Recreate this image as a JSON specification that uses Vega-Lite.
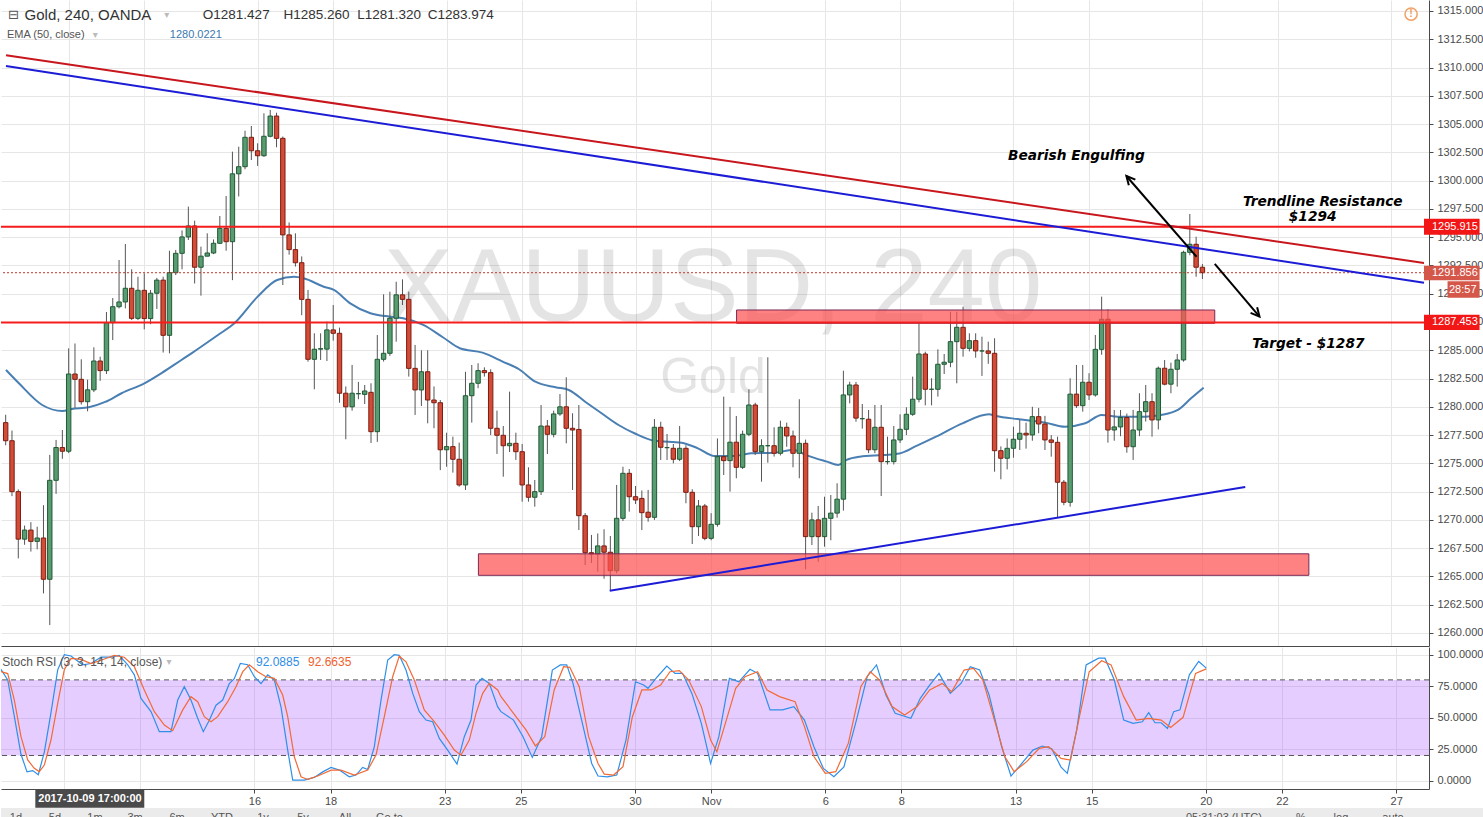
{
  "$schema": "https://vega.github.io/schema/vega-lite/v6.json",
  "background": "#ffffff",
  "padding": 0,
  "bounds": "flush",
  "spacing": 1,
  "config": {
    "view": {"stroke": null},
    "axis": {"labelFont": "Liberation Sans", "labelFontSize": 11, "labelColor": "#4a4a4a", "tickColor": "#4a4a4a", "domainColor": "#4a4a4a", "gridColor": "#e6e6e6", "tickSize": 4, "labelOverlap": false, "labelFlush": false},
    "text": {"font": "Liberation Sans"}
  },
  "datasets": {
    "candles": [
      {"n":0,"o":1278.6,"h":1279.3,"l":1276.6,"c":1277.0},
      {"n":1,"o":1277.0,"h":1277.9,"l":1272.1,"c":1272.5},
      {"n":2,"o":1272.5,"h":1272.7,"l":1266.6,"c":1268.3},
      {"n":3,"o":1268.3,"h":1269.5,"l":1267.8,"c":1269.1},
      {"n":4,"o":1269.1,"h":1269.8,"l":1267.2,"c":1268.1},
      {"n":5,"o":1268.1,"h":1269.4,"l":1267.4,"c":1268.4},
      {"n":6,"o":1268.4,"h":1271.3,"l":1263.5,"c":1264.75},
      {"n":7,"o":1264.75,"h":1275.75,"l":1260.7,"c":1273.5},
      {"n":8,"o":1273.5,"h":1277.07,"l":1272.3,"c":1276.4},
      {"n":9,"o":1276.4,"h":1277.95,"l":1275.4,"c":1276.07},
      {"n":10,"o":1276.07,"h":1285.17,"l":1275.9,"c":1282.9},
      {"n":11,"o":1282.9,"h":1285.6,"l":1279.9,"c":1282.43},
      {"n":12,"o":1282.43,"h":1284.2,"l":1280.2,"c":1280.45},
      {"n":13,"o":1280.45,"h":1282.4,"l":1279.6,"c":1281.5},
      {"n":14,"o":1281.5,"h":1285.26,"l":1281.3,"c":1284.05},
      {"n":15,"o":1284.05,"h":1284.43,"l":1282.3,"c":1283.2},
      {"n":16,"o":1283.2,"h":1288.38,"l":1282.9,"c":1287.44},
      {"n":17,"o":1287.44,"h":1289.62,"l":1285.9,"c":1288.85},
      {"n":18,"o":1288.85,"h":1292.98,"l":1288.7,"c":1289.27},
      {"n":19,"o":1289.27,"h":1294.4,"l":1288.7,"c":1290.48},
      {"n":20,"o":1290.48,"h":1292.16,"l":1287.67,"c":1287.82},
      {"n":21,"o":1287.82,"h":1291.5,"l":1287.67,"c":1290.3},
      {"n":22,"o":1290.3,"h":1291.8,"l":1286.85,"c":1287.8},
      {"n":23,"o":1287.8,"h":1290.33,"l":1287.3,"c":1290.04},
      {"n":24,"o":1290.04,"h":1291.4,"l":1288.65,"c":1291.2},
      {"n":25,"o":1291.2,"h":1291.5,"l":1284.8,"c":1286.32},
      {"n":26,"o":1286.32,"h":1293.8,"l":1284.73,"c":1291.86},
      {"n":27,"o":1291.86,"h":1293.87,"l":1291.65,"c":1293.57},
      {"n":28,"o":1293.57,"h":1295.6,"l":1292.16,"c":1295.02},
      {"n":29,"o":1295.02,"h":1297.7,"l":1294.75,"c":1295.99},
      {"n":30,"o":1295.99,"h":1296.46,"l":1290.9,"c":1292.34},
      {"n":31,"o":1292.34,"h":1294.16,"l":1289.83,"c":1293.32},
      {"n":32,"o":1293.32,"h":1295.34,"l":1293.3,"c":1293.6},
      {"n":33,"o":1293.6,"h":1294.8,"l":1293.5,"c":1294.46},
      {"n":34,"o":1294.46,"h":1296.87,"l":1294.4,"c":1295.78},
      {"n":35,"o":1295.78,"h":1298.64,"l":1293.8,"c":1294.6},
      {"n":36,"o":1294.6,"h":1302.56,"l":1291.2,"c":1300.6},
      {"n":37,"o":1300.6,"h":1303.0,"l":1298.6,"c":1301.23},
      {"n":38,"o":1301.23,"h":1304.41,"l":1301.0,"c":1303.83},
      {"n":39,"o":1303.83,"h":1304.83,"l":1301.82,"c":1302.64},
      {"n":40,"o":1302.64,"h":1303.3,"l":1301.3,"c":1302.2},
      {"n":41,"o":1302.2,"h":1305.95,"l":1302.1,"c":1303.92},
      {"n":42,"o":1303.92,"h":1306.25,"l":1303.83,"c":1305.71},
      {"n":43,"o":1305.71,"h":1306.0,"l":1302.95,"c":1303.74},
      {"n":44,"o":1303.74,"h":1303.9,"l":1290.77,"c":1295.2},
      {"n":45,"o":1295.2,"h":1296.3,"l":1293.45,"c":1293.9},
      {"n":46,"o":1293.9,"h":1295.34,"l":1292.4,"c":1292.74},
      {"n":47,"o":1292.74,"h":1293.3,"l":1288.1,"c":1289.5},
      {"n":48,"o":1289.5,"h":1290.33,"l":1283.99,"c":1284.2},
      {"n":49,"o":1284.2,"h":1286.5,"l":1281.55,"c":1285.09},
      {"n":50,"o":1285.1,"h":1286.5,"l":1284.14,"c":1285.14},
      {"n":51,"o":1285.1,"h":1287.53,"l":1284.05,"c":1286.8},
      {"n":52,"o":1286.8,"h":1289.0,"l":1285.85,"c":1286.5},
      {"n":53,"o":1286.5,"h":1287.0,"l":1280.36,"c":1281.2},
      {"n":54,"o":1281.2,"h":1281.8,"l":1277.13,"c":1280.0},
      {"n":55,"o":1280.0,"h":1283.7,"l":1279.66,"c":1281.2},
      {"n":56,"o":1281.16,"h":1282.2,"l":1280.67,"c":1281.16},
      {"n":57,"o":1281.1,"h":1281.93,"l":1280.25,"c":1281.4},
      {"n":58,"o":1281.28,"h":1282.08,"l":1276.8,"c":1277.8},
      {"n":59,"o":1277.8,"h":1286.35,"l":1276.9,"c":1284.2},
      {"n":60,"o":1284.2,"h":1289.95,"l":1284.0,"c":1284.73},
      {"n":61,"o":1284.73,"h":1290.18,"l":1284.5,"c":1287.83},
      {"n":62,"o":1287.83,"h":1291.06,"l":1285.76,"c":1289.9},
      {"n":63,"o":1289.9,"h":1291.27,"l":1289.0,"c":1289.5},
      {"n":64,"o":1289.5,"h":1290.18,"l":1282.67,"c":1283.4},
      {"n":65,"o":1283.4,"h":1285.47,"l":1279.28,"c":1281.49},
      {"n":66,"o":1281.49,"h":1285.0,"l":1280.07,"c":1283.1},
      {"n":67,"o":1283.1,"h":1285.0,"l":1278.54,"c":1280.6},
      {"n":68,"o":1280.6,"h":1281.8,"l":1278.1,"c":1280.36},
      {"n":69,"o":1280.36,"h":1280.6,"l":1274.4,"c":1276.2},
      {"n":70,"o":1276.2,"h":1277.71,"l":1274.7,"c":1276.48},
      {"n":71,"o":1276.48,"h":1277.36,"l":1274.18,"c":1275.36},
      {"n":72,"o":1275.36,"h":1276.83,"l":1272.94,"c":1273.09},
      {"n":73,"o":1273.09,"h":1283.1,"l":1272.65,"c":1280.98},
      {"n":74,"o":1280.98,"h":1283.7,"l":1278.6,"c":1282.08},
      {"n":75,"o":1282.08,"h":1283.85,"l":1281.64,"c":1283.2},
      {"n":76,"o":1283.2,"h":1283.49,"l":1282.67,"c":1283.02},
      {"n":77,"o":1283.02,"h":1283.32,"l":1277.5,"c":1278.1},
      {"n":78,"o":1278.1,"h":1279.66,"l":1275.83,"c":1277.48},
      {"n":79,"o":1277.48,"h":1278.3,"l":1273.82,"c":1276.56},
      {"n":80,"o":1276.56,"h":1281.34,"l":1276.0,"c":1276.77},
      {"n":81,"o":1276.77,"h":1277.71,"l":1275.3,"c":1276.03},
      {"n":82,"o":1276.03,"h":1276.71,"l":1271.61,"c":1273.09},
      {"n":83,"o":1273.09,"h":1274.65,"l":1271.61,"c":1272.0},
      {"n":84,"o":1272.0,"h":1273.53,"l":1271.17,"c":1272.5},
      {"n":85,"o":1272.5,"h":1280.16,"l":1272.2,"c":1278.3},
      {"n":86,"o":1278.3,"h":1278.84,"l":1275.83,"c":1277.57},
      {"n":87,"o":1277.57,"h":1279.66,"l":1277.3,"c":1279.37},
      {"n":88,"o":1279.37,"h":1281.13,"l":1279.2,"c":1280.0},
      {"n":89,"o":1280.0,"h":1282.61,"l":1276.77,"c":1278.1},
      {"n":90,"o":1278.1,"h":1279.43,"l":1272.65,"c":1277.95},
      {"n":91,"o":1278.0,"h":1280.16,"l":1269.1,"c":1270.37},
      {"n":92,"o":1270.37,"h":1270.6,"l":1266.01,"c":1267.1},
      {"n":93,"o":1267.1,"h":1268.67,"l":1266.2,"c":1266.98},
      {"n":94,"o":1266.98,"h":1268.8,"l":1265.42,"c":1267.7},
      {"n":95,"o":1267.7,"h":1269.17,"l":1264.8,"c":1267.14},
      {"n":96,"o":1267.14,"h":1268.58,"l":1263.74,"c":1265.51},
      {"n":97,"o":1265.51,"h":1273.09,"l":1265.28,"c":1270.14},
      {"n":98,"o":1270.14,"h":1274.7,"l":1269.9,"c":1274.12},
      {"n":99,"o":1274.12,"h":1274.5,"l":1270.73,"c":1272.05},
      {"n":100,"o":1272.05,"h":1273.0,"l":1271.4,"c":1271.76},
      {"n":101,"o":1271.9,"h":1272.6,"l":1269.1,"c":1270.64},
      {"n":102,"o":1270.68,"h":1272.65,"l":1269.84,"c":1270.23},
      {"n":103,"o":1270.23,"h":1278.92,"l":1270.0,"c":1278.19},
      {"n":104,"o":1278.19,"h":1278.68,"l":1275.3,"c":1276.42},
      {"n":105,"o":1276.39,"h":1277.6,"l":1275.3,"c":1276.39},
      {"n":106,"o":1276.33,"h":1276.71,"l":1275.0,"c":1275.36},
      {"n":107,"o":1275.36,"h":1278.3,"l":1275.2,"c":1276.33},
      {"n":108,"o":1276.33,"h":1276.6,"l":1271.47,"c":1272.44},
      {"n":109,"o":1272.44,"h":1272.71,"l":1267.87,"c":1269.4},
      {"n":110,"o":1269.4,"h":1271.76,"l":1268.58,"c":1271.23},
      {"n":111,"o":1271.23,"h":1271.41,"l":1268.2,"c":1268.37},
      {"n":112,"o":1268.37,"h":1270.6,"l":1268.2,"c":1269.61},
      {"n":113,"o":1269.61,"h":1277.2,"l":1269.4,"c":1275.59},
      {"n":114,"o":1275.59,"h":1280.9,"l":1273.97,"c":1275.24},
      {"n":115,"o":1275.24,"h":1280.0,"l":1272.5,"c":1276.87},
      {"n":116,"o":1276.87,"h":1279.19,"l":1273.68,"c":1274.65},
      {"n":117,"o":1274.65,"h":1277.9,"l":1274.5,"c":1277.57},
      {"n":118,"o":1277.57,"h":1281.55,"l":1277.4,"c":1280.16},
      {"n":119,"o":1280.16,"h":1280.36,"l":1275.74,"c":1276.03},
      {"n":120,"o":1276.03,"h":1277.13,"l":1273.38,"c":1276.56},
      {"n":121,"o":1276.56,"h":1284.38,"l":1275.06,"c":1276.56},
      {"n":122,"o":1276.56,"h":1278.19,"l":1275.6,"c":1275.89},
      {"n":123,"o":1275.89,"h":1278.77,"l":1275.7,"c":1278.19},
      {"n":124,"o":1278.19,"h":1278.6,"l":1276.47,"c":1277.42},
      {"n":125,"o":1277.42,"h":1277.9,"l":1274.65,"c":1275.89},
      {"n":126,"o":1275.89,"h":1280.67,"l":1273.68,"c":1276.77},
      {"n":127,"o":1276.77,"h":1277.1,"l":1265.63,"c":1268.52},
      {"n":128,"o":1268.52,"h":1270.64,"l":1267.78,"c":1270.0},
      {"n":129,"o":1270.0,"h":1271.23,"l":1266.3,"c":1268.52},
      {"n":130,"o":1268.52,"h":1272.05,"l":1267.63,"c":1270.14},
      {"n":131,"o":1270.14,"h":1272.2,"l":1268.2,"c":1270.6},
      {"n":132,"o":1270.6,"h":1273.24,"l":1270.2,"c":1271.83},
      {"n":133,"o":1271.83,"h":1283.19,"l":1270.82,"c":1281.05},
      {"n":134,"o":1281.05,"h":1282.22,"l":1280.3,"c":1281.93},
      {"n":135,"o":1281.93,"h":1282.2,"l":1278.68,"c":1279.0},
      {"n":136,"o":1278.95,"h":1280.25,"l":1278.07,"c":1278.95},
      {"n":137,"o":1278.9,"h":1279.72,"l":1275.9,"c":1276.2},
      {"n":138,"o":1276.2,"h":1280.16,"l":1275.9,"c":1278.19},
      {"n":139,"o":1278.19,"h":1280.16,"l":1272.11,"c":1275.15},
      {"n":140,"o":1275.15,"h":1277.36,"l":1274.9,"c":1275.15},
      {"n":141,"o":1275.15,"h":1278.3,"l":1274.9,"c":1277.07},
      {"n":142,"o":1277.07,"h":1279.34,"l":1276.8,"c":1278.01},
      {"n":143,"o":1278.01,"h":1279.96,"l":1277.5,"c":1279.34},
      {"n":144,"o":1279.34,"h":1282.67,"l":1279.2,"c":1280.67},
      {"n":145,"o":1280.67,"h":1287.38,"l":1280.4,"c":1284.67},
      {"n":146,"o":1284.67,"h":1284.87,"l":1280.13,"c":1281.55},
      {"n":147,"o":1281.55,"h":1282.52,"l":1280.13,"c":1281.55},
      {"n":148,"o":1281.55,"h":1285.08,"l":1280.9,"c":1283.76},
      {"n":149,"o":1283.76,"h":1284.67,"l":1282.9,"c":1283.94},
      {"n":150,"o":1283.94,"h":1288.41,"l":1283.5,"c":1285.76},
      {"n":151,"o":1285.76,"h":1288.41,"l":1282.08,"c":1287.03},
      {"n":152,"o":1287.03,"h":1288.85,"l":1284.43,"c":1285.17},
      {"n":153,"o":1285.17,"h":1286.5,"l":1284.9,"c":1285.85},
      {"n":154,"o":1285.85,"h":1286.5,"l":1284.34,"c":1284.94},
      {"n":155,"o":1284.94,"h":1286.2,"l":1282.73,"c":1284.94},
      {"n":156,"o":1284.94,"h":1285.76,"l":1283.8,"c":1284.73},
      {"n":157,"o":1284.73,"h":1286.06,"l":1274.26,"c":1276.12},
      {"n":158,"o":1276.12,"h":1276.5,"l":1273.59,"c":1275.45},
      {"n":159,"o":1275.45,"h":1277.2,"l":1274.47,"c":1276.33},
      {"n":160,"o":1276.33,"h":1278.24,"l":1275.5,"c":1277.13},
      {"n":161,"o":1277.13,"h":1278.84,"l":1276.18,"c":1277.66},
      {"n":162,"o":1277.66,"h":1278.6,"l":1276.3,"c":1277.51},
      {"n":163,"o":1277.51,"h":1280.0,"l":1277.0,"c":1279.13},
      {"n":164,"o":1279.13,"h":1279.9,"l":1277.66,"c":1278.48},
      {"n":165,"o":1278.48,"h":1279.2,"l":1276.18,"c":1277.07},
      {"n":166,"o":1277.07,"h":1277.5,"l":1275.59,"c":1276.86},
      {"n":167,"o":1276.86,"h":1277.36,"l":1270.23,"c":1273.33},
      {"n":168,"o":1273.33,"h":1273.53,"l":1271.3,"c":1271.56},
      {"n":169,"o":1271.56,"h":1282.52,"l":1271.17,"c":1281.12},
      {"n":170,"o":1281.12,"h":1283.7,"l":1279.9,"c":1280.1},
      {"n":171,"o":1280.1,"h":1283.7,"l":1279.57,"c":1282.17},
      {"n":172,"o":1282.17,"h":1282.97,"l":1280.6,"c":1281.05},
      {"n":173,"o":1281.05,"h":1286.35,"l":1280.9,"c":1285.08},
      {"n":174,"o":1285.08,"h":1289.74,"l":1284.6,"c":1287.74},
      {"n":175,"o":1287.74,"h":1288.62,"l":1276.83,"c":1277.95},
      {"n":176,"o":1277.95,"h":1279.72,"l":1277.0,"c":1278.22},
      {"n":177,"o":1278.22,"h":1279.72,"l":1277.4,"c":1279.05},
      {"n":178,"o":1279.05,"h":1279.4,"l":1275.94,"c":1276.47},
      {"n":179,"o":1276.47,"h":1279.72,"l":1275.3,"c":1277.95},
      {"n":180,"o":1277.95,"h":1281.2,"l":1277.4,"c":1279.57},
      {"n":181,"o":1279.57,"h":1281.93,"l":1278.7,"c":1280.45},
      {"n":182,"o":1280.45,"h":1281.2,"l":1277.36,"c":1278.84},
      {"n":183,"o":1278.84,"h":1283.56,"l":1278.0,"c":1283.41},
      {"n":184,"o":1283.41,"h":1284.14,"l":1281.9,"c":1282.0},
      {"n":185,"o":1282.0,"h":1283.9,"l":1281.2,"c":1283.32},
      {"n":186,"o":1283.32,"h":1284.67,"l":1281.78,"c":1284.14},
      {"n":187,"o":1284.14,"h":1293.8,"l":1283.99,"c":1293.66},
      {"n":188,"o":1293.66,"h":1297.05,"l":1293.4,"c":1294.37},
      {"n":189,"o":1294.37,"h":1295.04,"l":1291.5,"c":1292.34},
      {"n":190,"o":1292.34,"h":1292.63,"l":1291.3,"c":1291.86}
    ],
    "ema": [
      {"n":0.05,"v":1283.26},{"n":2.1,"v":1282.08},{"n":5.8,"v":1280.16},{"n":9,"v":1279.63},{"n":10.5,"v":1279.8},{"n":13.2,"v":1279.96},{"n":15.8,"v":1280.43},{"n":18.4,"v":1281.2},{"n":22.1,"v":1282.1},{"n":24.8,"v":1283.0},{"n":27.9,"v":1284.14},{"n":29.5,"v":1284.73},{"n":33.7,"v":1286.35},{"n":36.3,"v":1287.38},{"n":40,"v":1289.74},{"n":43.1,"v":1291.21},{"n":45.8,"v":1291.5},{"n":47.3,"v":1291.36},{"n":50.5,"v":1290.62},{"n":52.1,"v":1290.33},{"n":54.7,"v":1289.15},{"n":57.9,"v":1288.27},{"n":61,"v":1287.97},{"n":63.1,"v":1287.83},{"n":66.3,"v":1287.24},{"n":69.4,"v":1286.15},{"n":72.1,"v":1285.18},{"n":75.7,"v":1284.79},{"n":78.9,"v":1284.0},{"n":81.5,"v":1283.32},{"n":84.1,"v":1282.22},{"n":87.3,"v":1281.73},{"n":89.4,"v":1281.49},{"n":92,"v":1280.45},{"n":94.6,"v":1279.43},{"n":97.3,"v":1278.39},{"n":99.9,"v":1277.64},{"n":103,"v":1277.0},{"n":107.3,"v":1276.83},{"n":109.9,"v":1276.33},{"n":112.5,"v":1275.65},{"n":115.7,"v":1275.65},{"n":118.3,"v":1275.89},{"n":121.9,"v":1275.94},{"n":125.1,"v":1276.18},{"n":127.2,"v":1275.71},{"n":130.4,"v":1275.15},{"n":132.2,"v":1274.86},{"n":133.5,"v":1275.3},{"n":135.6,"v":1275.59},{"n":139.3,"v":1275.74},{"n":141.9,"v":1275.87},{"n":144.6,"v":1276.54},{"n":147.7,"v":1277.36},{"n":151.9,"v":1278.54},{"n":156.1,"v":1279.34},{"n":157.2,"v":1279.19},{"n":160.9,"v":1278.9},{"n":165.1,"v":1278.6},{"n":168.2,"v":1278.24},{"n":171.4,"v":1278.54},{"n":174,"v":1279.28},{"n":176.6,"v":1279.13},{"n":180.8,"v":1279.13},{"n":183.4,"v":1279.28},{"n":186.1,"v":1279.72},{"n":188.2,"v":1280.75},{"n":190.2,"v":1281.69}
    ],
    "stochK": [
      {"n":0.05,"v":88.4},{"n":1.11,"v":80},{"n":2.15,"v":51},{"n":3.2,"v":21},{"n":4.15,"v":7},{"n":5.05,"v":8},{"n":5.93,"v":4.7},{"n":6.88,"v":22.7},{"n":7.93,"v":54},{"n":8.99,"v":88},{"n":10.03,"v":100},{"n":11.09,"v":99},{"n":12.93,"v":92},{"n":14.24,"v":93},{"n":15.82,"v":98},{"n":17.39,"v":98},{"n":18.7,"v":99.5},{"n":20.03,"v":92},{"n":21.07,"v":84},{"n":22.12,"v":65.3},{"n":23.7,"v":54.8},{"n":25.01,"v":38.9},{"n":26.85,"v":38.9},{"n":27.91,"v":64},{"n":28.95,"v":74.6},{"n":30.0,"v":64},{"n":31.06,"v":49.5},{"n":31.94,"v":38.9},{"n":32.89,"v":48},{"n":33.95,"v":59.9},{"n":35.0,"v":64},{"n":36.04,"v":77},{"n":36.83,"v":81},{"n":37.78,"v":93},{"n":38.94,"v":92},{"n":39.99,"v":82.5},{"n":41.04,"v":77},{"n":42.1,"v":84},{"n":43.14,"v":80},{"n":44.19,"v":58.6},{"n":45.25,"v":24.2},{"n":46.04,"v":0.5},{"n":47.87,"v":0.5},{"n":49.44,"v":2.6},{"n":50.77,"v":7},{"n":52.08,"v":10.5},{"n":53.39,"v":8.4},{"n":54.96,"v":3.1},{"n":56.02,"v":4.5},{"n":57.07,"v":10.5},{"n":57.86,"v":8.9},{"n":58.9,"v":26.9},{"n":59.96,"v":64},{"n":61.02,"v":95.8},{"n":62.06,"v":100},{"n":62.84,"v":99.5},{"n":63.9,"v":87.8},{"n":64.96,"v":69.3},{"n":66.0,"v":54.8},{"n":67.05,"v":48.1},{"n":68.11,"v":46.8},{"n":69.15,"v":33.6},{"n":70.47,"v":24.3},{"n":71.94,"v":13.2},{"n":73.09,"v":34.9},{"n":74.15,"v":48.1},{"n":74.94,"v":75.9},{"n":75.88,"v":81.2},{"n":77.03,"v":77.2},{"n":78.36,"v":58.6},{"n":78.88,"v":54.8},{"n":80.85,"v":48.1},{"n":82.35,"v":34.9},{"n":83.81,"v":18.5},{"n":85.29,"v":34.9},{"n":86.97,"v":87.8},{"n":88.24,"v":91.9},{"n":89.24,"v":91.9},{"n":90.23,"v":77.2},{"n":91.71,"v":45.5},{"n":93.18,"v":13.7},{"n":94.17,"v":3.7},{"n":95.65,"v":3.1},{"n":97.13,"v":4.5},{"n":98.58,"v":32.2},{"n":100.08,"v":78.5},{"n":101.37,"v":75.9},{"n":102.05,"v":73.3},{"n":103.53,"v":82.5},{"n":105.02,"v":91},{"n":106.31,"v":85.2},{"n":107.49,"v":85.2},{"n":108.97,"v":69.3},{"n":110.46,"v":45.5},{"n":111.92,"v":13.7},{"n":113.22,"v":34.9},{"n":114.89,"v":81.2},{"n":116.37,"v":78.5},{"n":118.13,"v":88.4},{"n":119.33,"v":85.2},{"n":121.29,"v":56.2},{"n":123.27,"v":56.2},{"n":125.05,"v":58.8},{"n":126.72,"v":48.1},{"n":128.21,"v":27},{"n":129.69,"v":9.8},{"n":131.36,"v":3.1},{"n":132.94,"v":11},{"n":134.91,"v":48.1},{"n":136.6,"v":82.5},{"n":138.08,"v":91.9},{"n":139.56,"v":68},{"n":141.02,"v":53.5},{"n":143.5,"v":49.5},{"n":144.98,"v":65.4},{"n":146.46,"v":75.9},{"n":147.93,"v":85.2},{"n":149.71,"v":69.3},{"n":151.4,"v":77.2},{"n":152.86,"v":90.5},{"n":154.35,"v":87.8},{"n":155.83,"v":68},{"n":157.8,"v":27},{"n":159.28,"v":3.7},{"n":160.76,"v":12.4},{"n":162.74,"v":24.3},{"n":164.22,"v":27.5},{"n":165.7,"v":25.4},{"n":167.17,"v":10.8},{"n":168.16,"v":5.8},{"n":169.64,"v":40.3},{"n":171.12,"v":91.9},{"n":173.09,"v":97.2},{"n":174.09,"v":97.2},{"n":175.57,"v":79.9},{"n":177.05,"v":48.1},{"n":178.52,"v":45.5},{"n":179.99,"v":46.8},{"n":180.99,"v":54},{"n":181.98,"v":46},{"n":182.96,"v":46},{"n":183.95,"v":41.5},{"n":184.93,"v":54.8},{"n":185.92,"v":56.2},{"n":187.4,"v":84},{"n":188.87,"v":94.6},{"n":190.07,"v":89.3}
    ],
    "stochD": [
      {"n":0.05,"v":86.5},{"n":1.11,"v":85},{"n":2.15,"v":64},{"n":3.2,"v":35},{"n":4.26,"v":16.5},{"n":5.3,"v":9.8},{"n":6.09,"v":7.2},{"n":6.88,"v":12.4},{"n":7.93,"v":32.3},{"n":8.99,"v":61.4},{"n":10.03,"v":88},{"n":11.09,"v":97},{"n":12.66,"v":96.3},{"n":14.24,"v":93},{"n":15.82,"v":95.6},{"n":17.91,"v":99.5},{"n":19.49,"v":98},{"n":21.07,"v":90.5},{"n":22.64,"v":72},{"n":24.22,"v":54.8},{"n":25.8,"v":44.2},{"n":27.12,"v":39.7},{"n":28.7,"v":56.2},{"n":30.0,"v":66.7},{"n":31.06,"v":62.7},{"n":32.1,"v":50.8},{"n":33.16,"v":46.8},{"n":34.21,"v":50.8},{"n":35.79,"v":62.7},{"n":37.1,"v":74.6},{"n":38.16,"v":86.5},{"n":39.2,"v":92},{"n":40.52,"v":86.5},{"n":41.83,"v":82.5},{"n":43.14,"v":81.2},{"n":44.46,"v":68},{"n":45.25,"v":50.8},{"n":46.29,"v":19},{"n":47.35,"v":3.1},{"n":48.4,"v":1},{"n":49.98,"v":3.7},{"n":52.08,"v":8.4},{"n":53.65,"v":8.4},{"n":55.75,"v":4.5},{"n":57.86,"v":8.4},{"n":59.17,"v":20.3},{"n":60.48,"v":50.8},{"n":61.8,"v":82.5},{"n":62.84,"v":99},{"n":63.9,"v":94.3},{"n":65.21,"v":80},{"n":66.78,"v":56.2},{"n":68.36,"v":46.8},{"n":69.94,"v":36.2},{"n":71.52,"v":24.3},{"n":72.57,"v":20.3},{"n":73.88,"v":32.2},{"n":74.94,"v":53.4},{"n":75.99,"v":69.3},{"n":77.03,"v":77.2},{"n":78.36,"v":72},{"n":78.88,"v":66.7},{"n":80.85,"v":53.5},{"n":82.82,"v":40.3},{"n":84.3,"v":27.6},{"n":85.78,"v":34.9},{"n":87.26,"v":72},{"n":88.75,"v":90.5},{"n":89.72,"v":90},{"n":91.21,"v":74.6},{"n":92.69,"v":34.9},{"n":94.17,"v":13.7},{"n":95.16,"v":5.2},{"n":96.63,"v":4.5},{"n":98.11,"v":11.1},{"n":99.59,"v":50.8},{"n":101.08,"v":72},{"n":102.56,"v":72},{"n":104.04,"v":75.9},{"n":105.52,"v":86.5},{"n":106.99,"v":87.4},{"n":108.47,"v":79.9},{"n":110.46,"v":58.8},{"n":111.92,"v":32.3},{"n":112.91,"v":23},{"n":114.4,"v":48.1},{"n":115.88,"v":73.3},{"n":117.35,"v":82.5},{"n":119.33,"v":86.5},{"n":120.81,"v":72},{"n":122.79,"v":66.7},{"n":125.24,"v":62.7},{"n":126.72,"v":42.9},{"n":128.21,"v":19.2},{"n":129.99,"v":5.8},{"n":131.66,"v":7.2},{"n":133.63,"v":29.6},{"n":135.6,"v":74.6},{"n":137.09,"v":86.5},{"n":138.57,"v":79.9},{"n":140.54,"v":58.8},{"n":142.51,"v":52.2},{"n":144.48,"v":58.8},{"n":146.46,"v":72},{"n":148.44,"v":77.2},{"n":149.92,"v":70.6},{"n":151.89,"v":87.8},{"n":153.37,"v":89.1},{"n":154.85,"v":79.9},{"n":156.82,"v":45.5},{"n":158.3,"v":19.2},{"n":159.77,"v":7.2},{"n":161.76,"v":15.1},{"n":163.73,"v":25.7},{"n":165.21,"v":27},{"n":167.17,"v":17.7},{"n":168.66,"v":16.4},{"n":170.13,"v":52.2},{"n":171.61,"v":86.5},{"n":173.58,"v":95.2},{"n":175.06,"v":91.9},{"n":177.05,"v":66.7},{"n":179.02,"v":48.1},{"n":180.99,"v":49.5},{"n":182.96,"v":48.1},{"n":184.44,"v":42.3},{"n":186.41,"v":50.3},{"n":188.38,"v":85.2},{"n":190.07,"v":88.7}
    ]
  },
  "vconcat": [
    {
      "width": 1428,
      "height": 646,
      "data": {"values": [{}]},
      "layer": [
        {
          "mark": {"type": "text", "text": "XAUUSD, 240", "fontSize": 103, "color": "#000000", "opacity": 0.1},
          "encoding": {
            "x": {"datum": 112.3, "type": "quantitative", "scale": {"domain": [0.05, 225.18], "nice": false, "zero": false},
                  "axis": {"values": [10,22,40,52,70,82,100,112,130,142,160,172,190,202,220], "tickCount": 100, "labels": false, "ticks": false, "domain": true, "grid": true, "title": null}},
            "y": {"datum": 1290.33, "type": "quantitative", "scale": {"domain": [1258.85, 1315.97], "nice": false, "zero": false},
                  "axis": {"orient": "right", "values": [1260,1262.5,1265,1267.5,1270,1272.5,1275,1277.5,1280,1282.5,1285,1287.5,1290,1292.5,1295,1297.5,1300,1302.5,1305,1307.5,1310,1312.5,1315], "tickCount": 100, "format": ".3f", "grid": true, "title": null, "labelPadding": 4, "labelOverlap": false, "labelBound": false, "labelFlush": false}}
          }
        },
        {
          "mark": {"type": "text", "text": "Gold", "fontSize": 50, "color": "#000000", "opacity": 0.1},
          "encoding": {"x": {"datum": 112.3}, "y": {"datum": 1282.55}}
        },
        {
          "data": {"name": "ema"},
          "mark": {"type": "line", "color": "#4a7fb3", "strokeWidth": 2, "clip": true, "interpolate": "monotone"},
          "encoding": {"x": {"field": "n", "type": "quantitative"}, "y": {"field": "v", "type": "quantitative"}}
        },
        {
          "data": {"name": "candles"},
          "mark": {"type": "rule", "color": "#555555", "strokeWidth": 1, "clip": true},
          "encoding": {"x": {"field": "n", "type": "quantitative"}, "y": {"field": "l", "type": "quantitative"}, "y2": {"field": "h"}}
        },
        {
          "data": {"name": "candles"},
          "mark": {"type": "bar", "orient": "vertical", "size": 4.4, "strokeWidth": 1, "clip": true},
          "encoding": {
            "x": {"field": "n", "type": "quantitative"},
            "y": {"field": "o", "type": "quantitative"},
            "y2": {"field": "c"},
            "fill": {"condition": {"test": "datum.c >= datum.o", "value": "#5a9c72"}, "value": "#d24c38"},
            "stroke": {"condition": {"test": "datum.c >= datum.o", "value": "#1f5a34"}, "value": "#7d1c10"}
          }
        },
        {
          "mark": {"type": "rect", "fill": "#ff5252", "fillOpacity": 0.72, "stroke": "#7a2a55", "strokeWidth": 1},
          "encoding": {"x": {"datum": 116.04}, "x2": {"datum": 191.96}, "y": {"datum": 1288.56}, "y2": {"datum": 1287.39}}
        },
        {
          "mark": {"type": "rect", "fill": "#ff5252", "fillOpacity": 0.72, "stroke": "#7a2a55", "strokeWidth": 1},
          "encoding": {"x": {"datum": 75.05}, "x2": {"datum": 206.9}, "y": {"datum": 1267.0}, "y2": {"datum": 1265.1}}
        },
        {
          "mark": {"type": "rule", "color": "#f51c1c", "strokeWidth": 2},
          "encoding": {"y": {"datum": 1295.915}}
        },
        {
          "mark": {"type": "rule", "color": "#f51c1c", "strokeWidth": 2},
          "encoding": {"y": {"datum": 1287.453}}
        },
        {
          "mark": {"type": "rule", "color": "#c0392b", "strokeWidth": 1, "strokeDash": [2, 2]},
          "encoding": {"y": {"datum": 1291.856}}
        },
        {
          "mark": {"type": "rule", "color": "#c8161d", "strokeWidth": 2, "clip": true},
          "encoding": {"x": {"datum": 0.05}, "x2": {"datum": 225.18}, "y": {"datum": 1311.08}, "y2": {"datum": 1292.72}}
        },
        {
          "mark": {"type": "rule", "color": "#1c1cd6", "strokeWidth": 2, "clip": true},
          "encoding": {"x": {"datum": 0.05}, "x2": {"datum": 225.18}, "y": {"datum": 1310.13}, "y2": {"datum": 1290.97}}
        },
        {
          "mark": {"type": "rule", "color": "#1c1cd6", "strokeWidth": 2, "clip": true},
          "encoding": {"x": {"datum": 95.9}, "x2": {"datum": 196.8}, "y": {"datum": 1263.74}, "y2": {"datum": 1272.91}}
        },
        {
          "mark": {"type": "rule", "color": "#000000", "strokeWidth": 2},
          "encoding": {"x": {"datum": 189.07}, "x2": {"datum": 177.93}, "y": {"datum": 1293.27}, "y2": {"datum": 1300.41}}
        },
        {
          "mark": {"type": "point", "shape": "M-0.5,1L0,0L0.5,1", "size": 300, "filled": false, "stroke": "#000000", "strokeWidth": 2, "opacity": 1, "angle": -41.2},
          "encoding": {"x": {"datum": 177.93}, "y": {"datum": 1300.41}}
        },
        {
          "mark": {"type": "rule", "color": "#000000", "strokeWidth": 2},
          "encoding": {"x": {"datum": 191.96}, "x2": {"datum": 199.06}, "y": {"datum": 1292.63}, "y2": {"datum": 1287.97}}
        },
        {
          "mark": {"type": "point", "shape": "M-0.5,1L0,0L0.5,1", "size": 300, "filled": false, "stroke": "#000000", "strokeWidth": 2, "opacity": 1, "angle": 139.5},
          "encoding": {"x": {"datum": 199.06}, "y": {"datum": 1287.97}}
        },
        {
          "mark": {"type": "text", "text": "Bearish Engulfing", "font": "DejaVu Sans", "fontWeight": "bold", "fontStyle": "italic", "fontSize": 13.7, "color": "#000000"},
          "encoding": {"x": {"datum": 170.0}, "y": {"datum": 1302.18}}
        },
        {
          "mark": {"type": "text", "text": "Trendline Resistance", "font": "DejaVu Sans", "fontWeight": "bold", "fontStyle": "italic", "fontSize": 13.7, "color": "#000000"},
          "encoding": {"x": {"datum": 209.1}, "y": {"datum": 1298.11}}
        },
        {
          "mark": {"type": "text", "text": "$1294", "font": "DejaVu Sans", "fontWeight": "bold", "fontStyle": "italic", "fontSize": 13.7, "color": "#000000"},
          "encoding": {"x": {"datum": 207.5}, "y": {"datum": 1296.78}}
        },
        {
          "mark": {"type": "text", "text": "Target  - $1287", "font": "DejaVu Sans", "fontWeight": "bold", "fontStyle": "italic", "fontSize": 13.7, "color": "#000000"},
          "encoding": {"x": {"datum": 206.82}, "y": {"datum": 1285.55}}
        },
        {
          "mark": {"type": "rect", "fill": "#f21616"},
          "encoding": {"x": {"datum": 225.18}, "x2": {"datum": 234.0}, "y": {"datum": 1296.62}, "y2": {"datum": 1295.21}}
        },
        {
          "mark": {"type": "rect", "fill": "#d4574a"},
          "encoding": {"x": {"datum": 225.18}, "x2": {"datum": 234.0}, "y": {"datum": 1292.48}, "y2": {"datum": 1291.19}}
        },
        {
          "mark": {"type": "rect", "fill": "#d4574a"},
          "encoding": {"x": {"datum": 228.92}, "x2": {"datum": 234.0}, "y": {"datum": 1291.1}, "y2": {"datum": 1289.65}}
        },
        {
          "mark": {"type": "rect", "fill": "#f21616"},
          "encoding": {"x": {"datum": 225.18}, "x2": {"datum": 234.0}, "y": {"datum": 1288.15}, "y2": {"datum": 1286.79}}
        },
        {
          "mark": {"type": "text", "text": "1295.915", "align": "left", "fontSize": 11, "color": "#ffffff"},
          "encoding": {"x": {"datum": 226.44}, "y": {"datum": 1295.915}}
        },
        {
          "mark": {"type": "text", "text": "1291.856", "align": "left", "fontSize": 11, "color": "#ffffff"},
          "encoding": {"x": {"datum": 226.44}, "y": {"datum": 1291.83}}
        },
        {
          "mark": {"type": "text", "text": "28:57", "align": "center", "fontSize": 11, "color": "#ffffff"},
          "encoding": {"x": {"datum": 231.33}, "y": {"datum": 1290.37}}
        },
        {
          "mark": {"type": "text", "text": "1287.453", "align": "left", "fontSize": 11, "color": "#ffffff"},
          "encoding": {"x": {"datum": 226.44}, "y": {"datum": 1287.47}}
        },
        {
          "mark": {"type": "point", "shape": "circle", "size": 150, "filled": false, "stroke": "#f2a064", "strokeWidth": 1.5, "opacity": 1},
          "encoding": {"x": {"datum": 223.13}, "y": {"datum": 1314.73}}
        },
        {
          "mark": {"type": "text", "text": "!", "fontSize": 11, "fontWeight": "bold", "color": "#f2a064"},
          "encoding": {"x": {"datum": 223.13}, "y": {"datum": 1314.73}}
        },
        {
          "mark": {"type": "text", "text": "⊟", "font": "DejaVu Sans", "fontSize": 13, "color": "#555555"},
          "encoding": {"x": {"datum": 1.23}, "y": {"datum": 1314.64}}
        },
        {
          "mark": {"type": "text", "text": "Gold, 240, OANDA", "align": "left", "fontSize": 15, "color": "#333333"},
          "encoding": {"x": {"datum": 3.0}, "y": {"datum": 1314.64}}
        },
        {
          "mark": {"type": "text", "text": "▾", "font": "DejaVu Sans", "fontSize": 10, "color": "#bbbbbb"},
          "encoding": {"x": {"datum": 25.59}, "y": {"datum": 1314.64}}
        },
        {
          "mark": {"type": "text", "text": "O1281.427", "align": "left", "fontSize": 13.5, "color": "#333333"},
          "encoding": {"x": {"datum": 31.3}, "y": {"datum": 1314.64}}
        },
        {
          "mark": {"type": "text", "text": "H1285.260", "align": "left", "fontSize": 13.5, "color": "#333333"},
          "encoding": {"x": {"datum": 44.1}, "y": {"datum": 1314.64}}
        },
        {
          "mark": {"type": "text", "text": "L1281.320", "align": "left", "fontSize": 13.5, "color": "#333333"},
          "encoding": {"x": {"datum": 55.8}, "y": {"datum": 1314.64}}
        },
        {
          "mark": {"type": "text", "text": "C1283.974", "align": "left", "fontSize": 13.5, "color": "#333333"},
          "encoding": {"x": {"datum": 67.0}, "y": {"datum": 1314.64}}
        },
        {
          "mark": {"type": "text", "text": "EMA (50, close)", "align": "left", "fontSize": 11, "color": "#555555"},
          "encoding": {"x": {"datum": 0.21}, "y": {"datum": 1312.88}}
        },
        {
          "mark": {"type": "text", "text": "▾", "font": "DejaVu Sans", "fontSize": 10, "color": "#bbbbbb"},
          "encoding": {"x": {"datum": 14.24}, "y": {"datum": 1312.88}}
        },
        {
          "mark": {"type": "text", "text": "1280.0221", "align": "left", "fontSize": 11, "color": "#3b78b0"},
          "encoding": {"x": {"datum": 26.06}, "y": {"datum": 1312.88}}
        }
      ]
    },
    {
      "width": 1428,
      "height": 142,
      "data": {"values": [{}]},
      "layer": [
        {
          "mark": {"type": "rect", "fill": "#a64dff", "fillOpacity": 0.28},
          "encoding": {
            "x": {"datum": 0.05, "type": "quantitative", "scale": {"domain": [0.05, 225.18], "nice": false, "zero": false},
                  "axis": {"values": [10,22,40,52,70,82,100,112,130,142,160,172,190,202,220], "tickCount": 100, "grid": true, "ticks": true, "domain": true, "title": null, "labelPadding": 2, "labelOverlap": false, "labelFlush": false,
                           "labelExpr": "datum.value==40?'16':datum.value==52?'18':datum.value==70?'23':datum.value==82?'25':datum.value==100?'30':datum.value==112?'Nov':datum.value==130?'6':datum.value==142?'8':datum.value==160?'13':datum.value==172?'15':datum.value==190?'20':datum.value==202?'22':datum.value==220?'27':''"}},
            "x2": {"datum": 225.18},
            "y": {"datum": 20, "type": "quantitative", "scale": {"domain": [-6.59, 106.1], "nice": false, "zero": false},
                  "axis": {"orient": "right", "values": [0, 25, 50, 75, 100], "tickCount": 20, "format": ".4f", "grid": true, "title": null, "labelPadding": 4, "labelOverlap": false, "labelFlush": false}},
            "y2": {"datum": 80}
          }
        },
        {
          "mark": {"type": "rule", "color": "#555555", "strokeWidth": 1, "strokeDash": [5, 4]},
          "encoding": {"y": {"datum": 80}}
        },
        {
          "mark": {"type": "rule", "color": "#555555", "strokeWidth": 1, "strokeDash": [5, 4]},
          "encoding": {"y": {"datum": 20}}
        },
        {
          "data": {"name": "stochK"},
          "mark": {"type": "line", "color": "#2f8fe8", "strokeWidth": 1.2, "clip": true},
          "encoding": {"x": {"field": "n", "type": "quantitative"}, "y": {"field": "v", "type": "quantitative"}}
        },
        {
          "data": {"name": "stochD"},
          "mark": {"type": "line", "color": "#f26a35", "strokeWidth": 1.2, "clip": true},
          "encoding": {"x": {"field": "n", "type": "quantitative"}, "y": {"field": "v", "type": "quantitative"}}
        },
        {
          "mark": {"type": "text", "text": "Stoch RSI (3, 3, 14, 14, close)", "align": "left", "fontSize": 12, "color": "#555555"},
          "encoding": {"x": {"datum": 0.25}, "y": {"datum": 94.2}}
        },
        {
          "mark": {"type": "text", "text": "▾", "font": "DejaVu Sans", "fontSize": 10, "color": "#bbbbbb"},
          "encoding": {"x": {"datum": 26.54}, "y": {"datum": 94.2}}
        },
        {
          "mark": {"type": "text", "text": "92.0885", "align": "left", "fontSize": 12, "color": "#2e8de6"},
          "encoding": {"x": {"datum": 40.25}, "y": {"datum": 94.2}}
        },
        {
          "mark": {"type": "text", "text": "92.6635", "align": "left", "fontSize": 12, "color": "#f0612d"},
          "encoding": {"x": {"datum": 48.45}, "y": {"datum": 94.2}}
        },
        {
          "mark": {"type": "rect", "fill": "#ebebeb"},
          "encoding": {"x": {"datum": 0.05}, "x2": {"datum": 234.0}, "y": {"datum": -21.67}, "y2": {"datum": -39.1}}
        },
        {
          "mark": {"type": "rect", "fill": "#4a4a4a"},
          "encoding": {"x": {"datum": 5.46}, "x2": {"datum": 22.64}, "y": {"datum": -7.4}, "y2": {"datum": -21.4}}
        },
        {
          "mark": {"type": "text", "text": "2017-10-09 17:00:00", "fontSize": 11, "fontWeight": "bold", "color": "#ffffff"},
          "encoding": {"x": {"datum": 14.08}, "y": {"datum": -14.5}}
        },
        {
          "mark": {"type": "text", "text": "1d", "fontSize": 11, "color": "#555555"},
          "encoding": {"x": {"datum": 2.41}, "y": {"datum": -30.0}}
        },
        {
          "mark": {"type": "text", "text": "5d", "fontSize": 11, "color": "#555555"},
          "encoding": {"x": {"datum": 8.56}, "y": {"datum": -30.0}}
        },
        {
          "mark": {"type": "text", "text": "1m", "fontSize": 11, "color": "#555555"},
          "encoding": {"x": {"datum": 14.87}, "y": {"datum": -30.0}}
        },
        {
          "mark": {"type": "text", "text": "3m", "fontSize": 11, "color": "#555555"},
          "encoding": {"x": {"datum": 21.18}, "y": {"datum": -30.0}}
        },
        {
          "mark": {"type": "text", "text": "6m", "fontSize": 11, "color": "#555555"},
          "encoding": {"x": {"datum": 27.8}, "y": {"datum": -30.0}}
        },
        {
          "mark": {"type": "text", "text": "YTD", "fontSize": 11, "color": "#555555"},
          "encoding": {"x": {"datum": 34.89}, "y": {"datum": -30.0}}
        },
        {
          "mark": {"type": "text", "text": "1y", "fontSize": 11, "color": "#555555"},
          "encoding": {"x": {"datum": 41.36}, "y": {"datum": -30.0}}
        },
        {
          "mark": {"type": "text", "text": "5y", "fontSize": 11, "color": "#555555"},
          "encoding": {"x": {"datum": 47.66}, "y": {"datum": -30.0}}
        },
        {
          "mark": {"type": "text", "text": "All", "fontSize": 11, "color": "#555555"},
          "encoding": {"x": {"datum": 54.28}, "y": {"datum": -30.0}}
        },
        {
          "mark": {"type": "text", "text": "Go to...", "align": "left", "fontSize": 11, "color": "#555555"},
          "encoding": {"x": {"datum": 59.17}, "y": {"datum": -30.0}}
        },
        {
          "mark": {"type": "text", "text": "05:31:03 (UTC)", "align": "left", "fontSize": 11, "color": "#555555"},
          "encoding": {"x": {"datum": 186.87}, "y": {"datum": -30.0}}
        },
        {
          "mark": {"type": "text", "text": "%", "fontSize": 11, "color": "#555555"},
          "encoding": {"x": {"datum": 205.0}, "y": {"datum": -30.0}}
        },
        {
          "mark": {"type": "text", "text": "log", "fontSize": 11, "color": "#555555"},
          "encoding": {"x": {"datum": 211.3}, "y": {"datum": -30.0}}
        },
        {
          "mark": {"type": "text", "text": "auto", "fontSize": 11, "color": "#555555"},
          "encoding": {"x": {"datum": 219.5}, "y": {"datum": -30.0}}
        }
      ]
    }
  ]
}
